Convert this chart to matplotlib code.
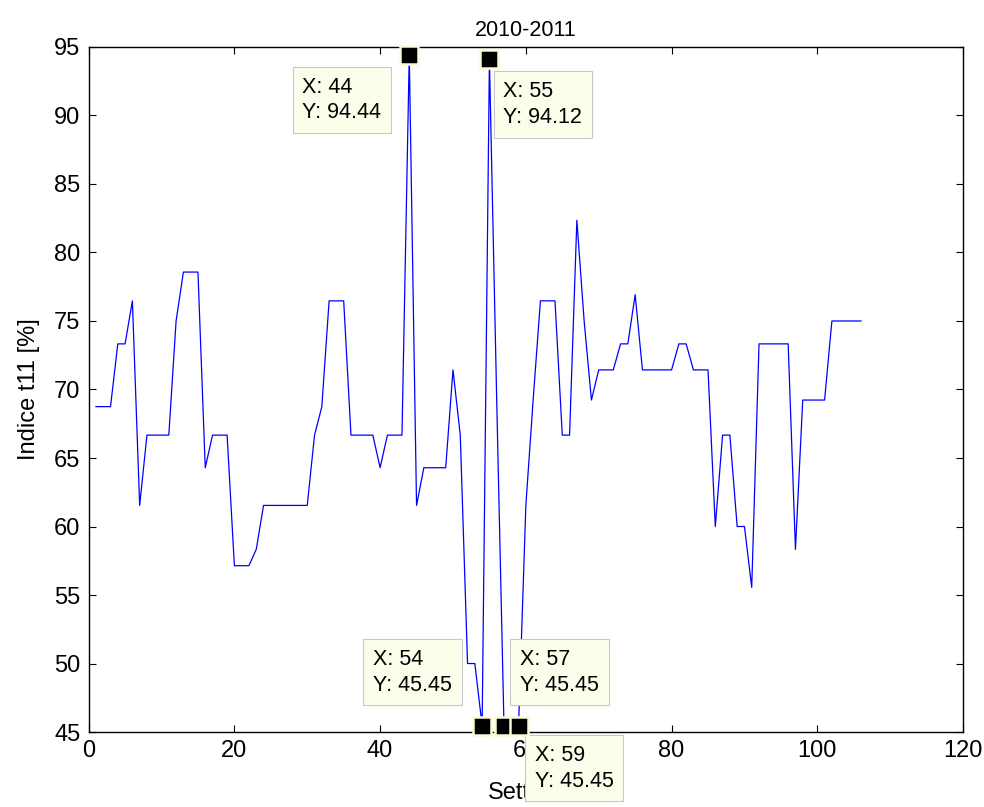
import matplotlib
matplotlib.use("Agg")
import matplotlib.pyplot as plt

plt.rcParams["font.family"] = ["Liberation Sans", "DejaVu Sans"]

# Indice t11 per settimana (2010-2011)
SETTIMANE = list(range(1, 107))
INDICE = [
    68.75, 68.75, 68.75, 73.33, 73.33, 76.47, 61.54, 66.67, 66.67, 66.67,
    66.67, 75.00, 78.57, 78.57, 78.57, 64.29, 66.67, 66.67, 66.67, 57.14,
    57.14, 57.14, 58.33, 61.54, 61.54, 61.54, 61.54, 61.54, 61.54, 61.54,
    66.67, 68.75, 76.47, 76.47, 76.47, 66.67, 66.67, 66.67, 66.67, 64.29,
    66.67, 66.67, 66.67, 94.44, 61.54, 64.29, 64.29, 64.29, 64.29, 71.43,
    66.67, 50.00, 50.00, 45.45, 94.12, 69.23, 45.45, 45.45, 45.45, 61.54,
    69.23, 76.47, 76.47, 76.47, 66.67, 66.67, 82.35, 75.00, 69.23, 71.43,
    71.43, 71.43, 73.33, 73.33, 76.92, 71.43, 71.43, 71.43, 71.43, 71.43,
    73.33, 73.33, 71.43, 71.43, 71.43, 60.00, 66.67, 66.67, 60.00, 60.00,
    55.56, 73.33, 73.33, 73.33, 73.33, 73.33, 58.33, 69.23, 69.23, 69.23,
    69.23, 75.00, 75.00, 75.00, 75.00, 75.00,
]

# data tip (MATLAB) sulle settimane evidenziate
TIP_X = [44, 55, 54, 57, 59]
# offset del testo rispetto al punto, in pixel
TIP_OFFSET = {44: (-107, -22), 55: (14, -22), 54: (-109, 77), 57: (16, 77), 59: (16, -19)}

X_TICKS = list(range(0, 121, 20))
Y_TICKS = list(range(45, 96, 5))

TIP_FACE = "#FDFDEB"
TIP_EDGE = "#C8C8C8"
MARK_EDGE = "#FAFAD6"

fig = plt.figure(figsize=(9.84, 8.07), dpi=100)
ax = fig.add_axes([0.0901, 0.0929, 0.8886, 0.8489])

ax.plot(SETTIMANE, INDICE, color="#0000FF", linewidth=0.9)

ax.set_xlim(0, 120)
ax.set_ylim(45, 95)
ax.set_xticks(X_TICKS)
ax.set_yticks(Y_TICKS)
ax.tick_params(direction="in", length=5, width=0.8, top=True, right=True,
               labelsize=17, pad=6)
for s in ax.spines.values():
    s.set_linewidth(1.0)

ax.set_title("2010-2011", fontsize=15.5, pad=8)
ax.set_ylabel("Indice t11 [%]", fontsize=17, labelpad=10)
ax.set_xlabel("Settimana", fontsize=17, labelpad=14)
ax.xaxis.label.set_x(0.517)

for tx in TIP_X:
    ty = INDICE[tx - 1]
    ax.annotate(f"X: {tx}\nY: {ty:.2f}", xy=(tx, ty), xytext=TIP_OFFSET[tx],
                textcoords="offset pixels", ha="left", va="top",
                fontsize=15.5, linespacing=1.3, annotation_clip=False, zorder=5,
                bbox=dict(boxstyle="square,pad=0.45", fc=TIP_FACE, ec=TIP_EDGE, lw=0.8))
    ax.plot(tx, ty, "s", ms=12.5, mfc="black", mec=MARK_EDGE, mew=1.8,
            clip_on=False, zorder=6)

fig.savefig("out.png", dpi=100)
